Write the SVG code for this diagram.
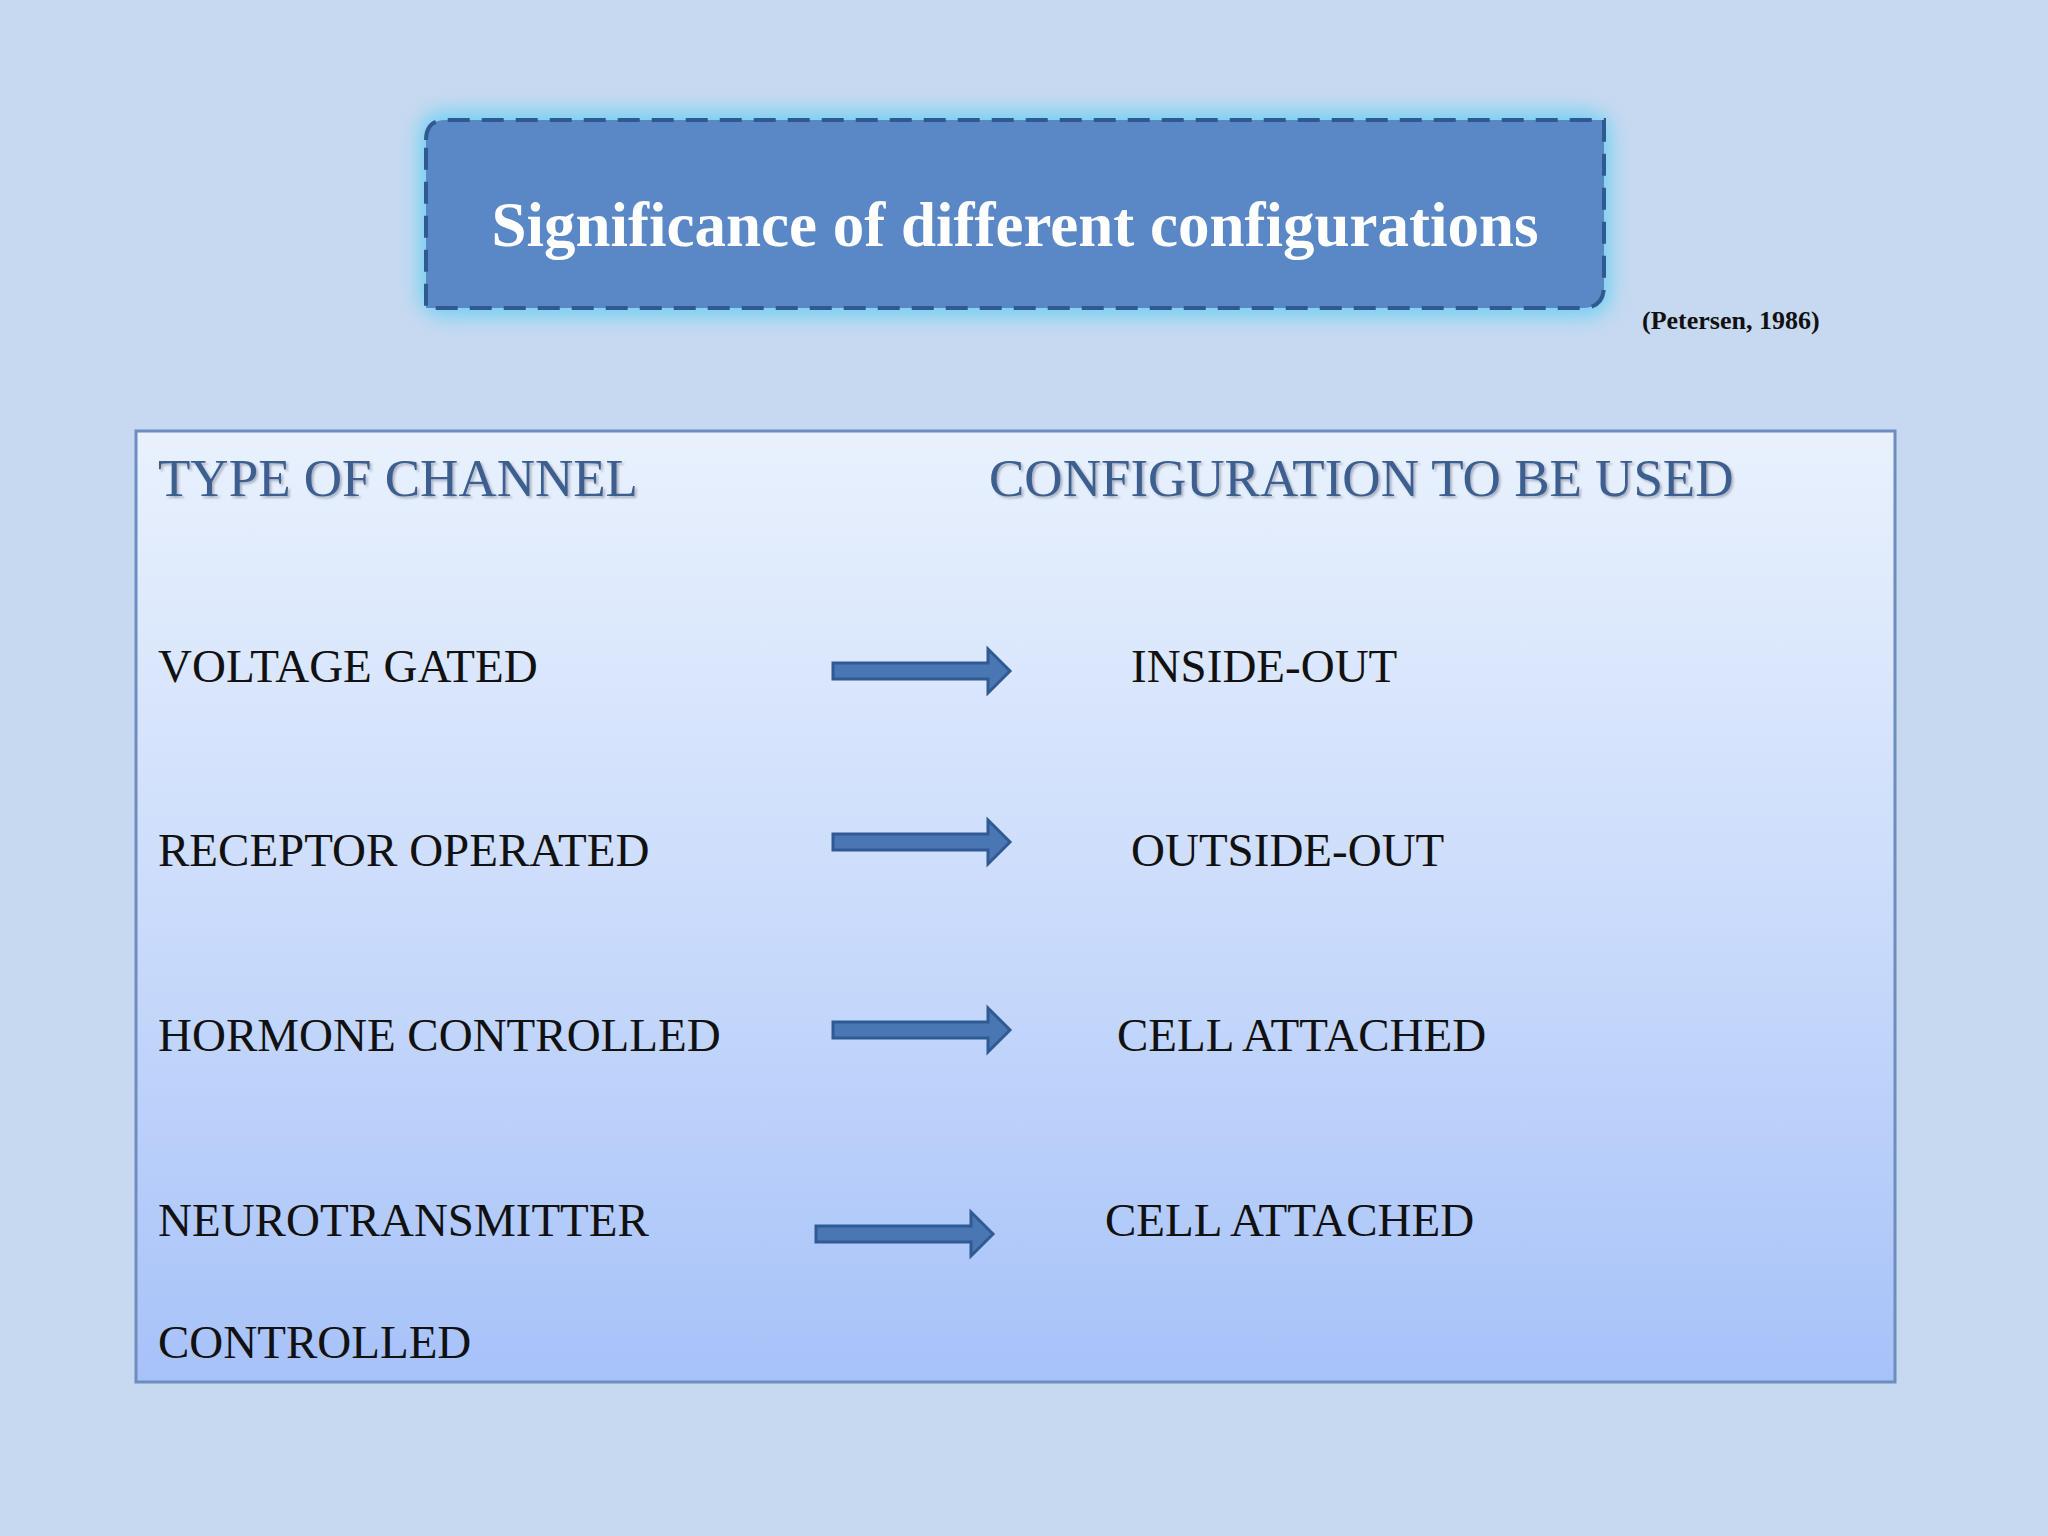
<svg xmlns="http://www.w3.org/2000/svg" width="2048" height="1536" viewBox="0 0 2048 1536">
<defs>
<linearGradient id="g" x1="0" y1="0" x2="0" y2="1"><stop offset="0" stop-color="#e9f1fd"/><stop offset="0.5" stop-color="#cbdcfb"/><stop offset="1" stop-color="#a7c2f9"/></linearGradient>
<filter id="glow" x="-10%" y="-30%" width="120%" height="160%"><feGaussianBlur stdDeviation="10"/></filter>
<filter id="sh"><feDropShadow dx="2" dy="2" stdDeviation="1" flood-color="#556" flood-opacity="0.4"/></filter>
<path id="arr" d="M0,-8 H155 V-22 L177,0 L155,22 V8 H0 Z" fill="#4a77b4" stroke="#2f5a93" stroke-width="3"/>
</defs>
<style>
.t{font-family:"Liberation Serif",serif;font-size:47px;fill:#111}
.h{font-family:"Liberation Serif",serif;font-size:53px;fill:#3d5f8f;filter:url(#sh)}
</style>
<rect width="2048" height="1536" fill="#c6d9f0"/>
<g id="title">
<rect x="420" y="112" width="1190" height="204" rx="22" fill="#6fd0f2" filter="url(#glow)"/>
<path d="M426,140 Q426,120 446,120 H1604 V286 Q1604,308 1582,308 H426 Z" fill="#5a88c6" stroke="#2f5a8f" stroke-width="4" stroke-dasharray="22,12"/>
<text x="1015" y="246" text-anchor="middle" font-family="Liberation Serif,serif" font-weight="bold" font-size="63" fill="#fff">Significance of different configurations</text>
</g>
<text x="1642" y="329" font-family="Liberation Serif,serif" font-weight="bold" font-size="26" fill="#111">(Petersen,  1986)</text>
<g id="table">
<rect x="136" y="431" width="1759" height="951" fill="url(#g)" stroke="#6d8dbf" stroke-width="3"/>
<text class="h" x="158" y="496">TYPE OF CHANNEL</text>
<text class="h" x="989" y="496">CONFIGURATION TO BE USED</text>
<text class="t" x="158" y="682">VOLTAGE GATED</text>
<text class="t" x="1131" y="682">INSIDE-OUT</text>
<text class="t" x="158" y="866">RECEPTOR OPERATED</text>
<text class="t" x="1131" y="866">OUTSIDE-OUT</text>
<text class="t" x="158" y="1051">HORMONE CONTROLLED</text>
<text class="t" x="1117" y="1051">CELL ATTACHED</text>
<text class="t" x="158" y="1236">NEUROTRANSMITTER</text>
<text class="t" x="1105" y="1236">CELL ATTACHED</text>
<text class="t" x="158" y="1358">CONTROLLED</text>
</g>
<g id="connectors">
<use href="#arr" x="833" y="671"/>
<use href="#arr" x="833" y="842"/>
<use href="#arr" x="833" y="1030"/>
<use href="#arr" x="816" y="1234"/>
</g>
</svg>
